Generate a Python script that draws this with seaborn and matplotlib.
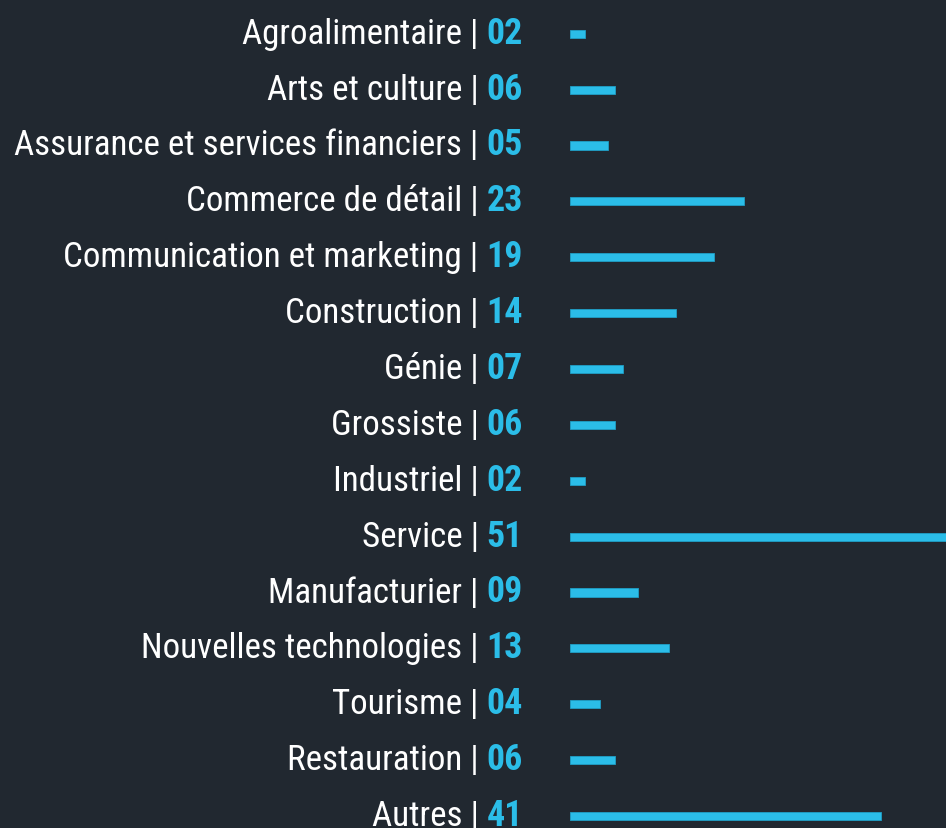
import matplotlib
matplotlib.use("Agg")
import matplotlib.pyplot as plt
import matplotlib.transforms as mtransforms
from matplotlib import font_manager
import seaborn as sns
import pandas as pd

categories = ["Agroalimentaire", "Arts et culture", "Assurance et services financiers",
              "Commerce de détail", "Communication et marketing", "Construction",
              "Génie", "Grossiste", "Industriel", "Service", "Manufacturier",
              "Nouvelles technologies", "Tourisme", "Restauration", "Autres"]
values = [2, 6, 5, 23, 19, 14, 7, 6, 2, 51, 9, 13, 4, 6, 41]

BG = "#212830"
CYAN = "#2bbde8"

available = {f.name for f in font_manager.fontManager.ttflist}
family = "DejaVu Sans"
for cand in ["Liberation Sans Narrow", "Roboto Condensed", "Open Sans Condensed", "Liberation Sans"]:
    if cand in available:
        family = cand
        break

sns.set_theme(style="white")
plt.rcParams["font.family"] = [family, "DejaVu Sans"]

df = pd.DataFrame({"cat": categories, "val": values})

W, H = 946, 829
fig = plt.figure(figsize=(W / 100, H / 100), dpi=100, facecolor=BG)
x0 = 570
ax = fig.add_axes([x0 / W, 0, (W - x0) / W, 1])
ax.set_facecolor(BG)

sns.barplot(data=df, x="val", y="cat", order=categories, orient="h",
            width=0.145, color=CYAN, edgecolor="#1f9fc6", linewidth=0.6,
            saturation=1, ax=ax)

unit = 7.58
ax.set_xlim(0, (W - x0) / unit)
spacing = 55.88
top_c = 34.7
ax.set_ylim(len(categories) - 1 + (H - (top_c + spacing * (len(categories) - 1))) / spacing,
            -top_c / spacing)
ax.axis("off")

fig.canvas.draw()
renderer = fig.canvas.get_renderer()
num_tr = mtransforms.offset_copy(ax.get_yaxis_transform(), fig=fig, x=-47, y=-9, units="dots")
fs = 25.2
for i, (c, v) in enumerate(zip(categories, values)):
    t = ax.text(0, i, f"{v:02d}", transform=num_tr, ha="right", va="baseline",
                color=CYAN, fontsize=fs + 0.6, fontweight="bold", clip_on=False)
    bb = t.get_window_extent(renderer)
    shift = bb.x0 - x0 - 8
    lab_tr = mtransforms.offset_copy(ax.get_yaxis_transform(), fig=fig, x=shift, y=-9, units="dots")
    ax.text(0, i, f"{c} |", transform=lab_tr, ha="right", va="baseline",
            color="white", fontsize=fs, clip_on=False)

fig.savefig("out.png", dpi=100, facecolor=BG)
